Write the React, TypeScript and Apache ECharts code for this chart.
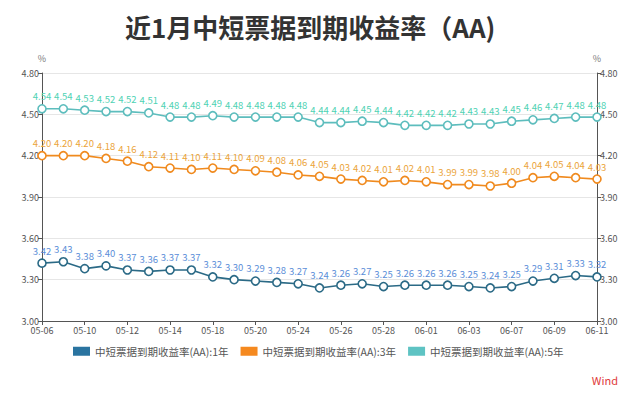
import React, { useEffect, useRef } from "react";
import * as echarts from "echarts";

const dates = [
  "05-06", "05-09", "05-10", "05-11", "05-12", "05-13", "05-14", "05-17", "05-18",
  "05-19", "05-20", "05-23", "05-24", "05-25", "05-26", "05-27", "05-28", "05-31",
  "06-01", "06-02", "06-03", "06-06", "06-07", "06-08", "06-09", "06-10", "06-11",
];
const y1 = [
  3.42, 3.43, 3.38, 3.40, 3.37, 3.36, 3.37, 3.37, 3.32, 3.30, 3.29, 3.28, 3.27, 3.24,
  3.26, 3.27, 3.25, 3.26, 3.26, 3.26, 3.25, 3.24, 3.25, 3.29, 3.31, 3.33, 3.32,
];
const y3 = [
  4.20, 4.20, 4.20, 4.18, 4.16, 4.12, 4.11, 4.10, 4.11, 4.10, 4.09, 4.08, 4.06, 4.05,
  4.03, 4.02, 4.01, 4.02, 4.01, 3.99, 3.99, 3.98, 4.00, 4.04, 4.05, 4.04, 4.03,
];
const y5 = [
  4.54, 4.54, 4.53, 4.52, 4.52, 4.51, 4.48, 4.48, 4.49, 4.48, 4.48, 4.48, 4.48, 4.44,
  4.44, 4.45, 4.44, 4.42, 4.42, 4.42, 4.43, 4.43, 4.45, 4.46, 4.47, 4.48, 4.48,
];
const seriesNames = [
  "中短票据到期收益率(AA):1年",
  "中短票据到期收益率(AA):3年",
  "中短票据到期收益率(AA):5年",
];

const FONT = "'Noto Sans CJK SC', 'Open Sans', sans-serif";

export default function App() {
  const ref = useRef<HTMLDivElement>(null);
  useEffect(() => {
    if (!ref.current) return;
    const chart = echarts.init(ref.current, undefined, { renderer: "svg" });
    const mk = (name: string, data: number[], lineColor: string, labelColor: string) => ({
      name,
      type: "line",
      data,
      symbol: "circle",
      symbolSize: 8,
      itemStyle: { color: "#fff", borderColor: lineColor, borderWidth: 1.6 },
      lineStyle: { color: lineColor, width: 1.6 },
      label: {
        show: true,
        position: "top",
        distance: 3,
        color: labelColor,
        fontSize: 9.5,
        fontFamily: FONT,
        formatter: (p: any) => p.value.toFixed(2),
      },
    });
    const yAxisBase = (pos: "left" | "right") => ({
      type: "value",
      position: pos,
      min: 3.0,
      max: 4.8,
      interval: 0.3,
      name: "%",
      nameGap: 10,
      nameTextStyle: { color: "#777", fontSize: 9, fontFamily: FONT },
      axisLine: { show: true, lineStyle: { color: "#555" } },
      axisTick: { show: true, length: 4, lineStyle: { color: "#555" } },
      axisLabel: {
        color: "#555",
        fontSize: 9,
        fontFamily: FONT,
        margin: 3,
        formatter: (v: number) => v.toFixed(2),
      },
      splitLine: { show: pos === "left", lineStyle: { color: "#e6e6e6" } },
    });
    chart.setOption({
      animation: false,
      backgroundColor: "#fff",
      title: {
        text: "近1月中短票据到期收益率（AA)",
        left: 112,
        top: 0,
        textStyle: { fontSize: 26, fontWeight: "bold", color: "#333", fontFamily: FONT },
      },
      legend: {
        left: 60,
        top: 333,
        itemWidth: 17,
        itemHeight: 9,
        itemGap: 12,
        icon: "rect",
        textStyle: { color: "#555", fontSize: 10.5, fontFamily: FONT },
        data: [
          { name: seriesNames[0], itemStyle: { color: "#2a74a0", borderWidth: 0 } },
          { name: seriesNames[1], itemStyle: { color: "#f5891f", borderWidth: 0 } },
          { name: seriesNames[2], itemStyle: { color: "#5ec3c3", borderWidth: 0 } },
        ],
      },
      graphic: [
        {
          type: "text",
          right: 14,
          top: 366,
          style: { text: "Wind", fill: "#e03a3a", fontSize: 11, fontFamily: FONT },
        },
      ],
      grid: { left: 34, right: 35, top: 65, bottom: 65 },
      xAxis: {
        type: "category",
        data: dates,
        boundaryGap: false,
        axisLine: { show: true, lineStyle: { color: "#555" } },
        axisTick: { show: true, interval: 1, length: 4, lineStyle: { color: "#555" } },
        axisLabel: { interval: 1, color: "#555", fontSize: 9, fontFamily: FONT, margin: 5 },
        splitLine: { show: false },
      },
      yAxis: [yAxisBase("left"), yAxisBase("right")],
      series: [
        mk(seriesNames[0], y1, "#2b6a86", "#5b8ed8"),
        mk(seriesNames[1], y3, "#f08a1e", "#eba43a"),
        mk(seriesNames[2], y5, "#5dbdbd", "#4fd2b4"),
      ],
    });
    return () => chart.dispose();
  }, []);
  return <div ref={ref} style={{ width: 624, height: 378 }} />;
}
